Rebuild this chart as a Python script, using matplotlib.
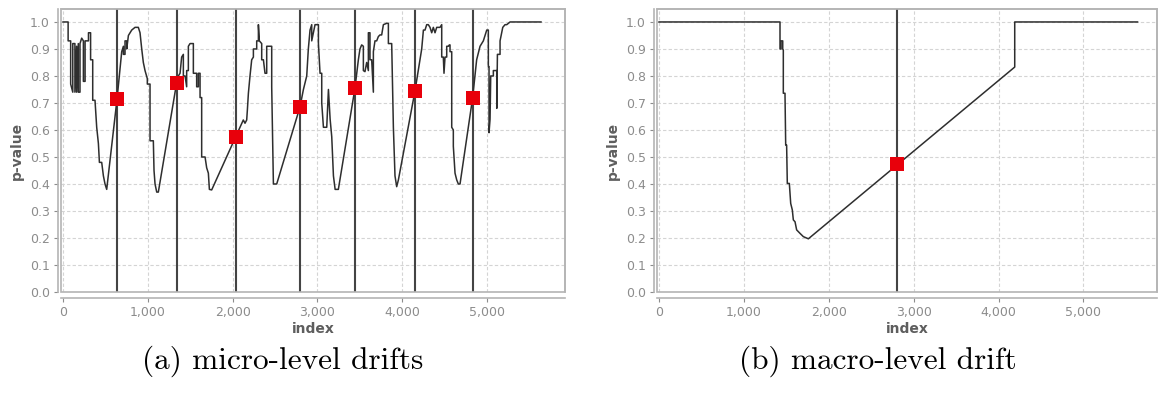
import matplotlib
matplotlib.use("Agg")
import matplotlib.pyplot as plt
from matplotlib.patches import Rectangle

# (a) micro-level drifts: p-value trace (index, p-value)
micro_x = [0, 60, 60, 90, 90, 115, 115, 140, 140, 160, 160, 180, 180, 200, 200, 220,
           240, 240, 260, 260, 300, 300, 325, 325, 350, 350, 377, 397, 417, 429, 456,
           476, 495, 515, 637, 692, 712, 712, 731, 731, 751, 751, 771, 790, 810, 849,
           888, 908, 928, 947, 967, 994, 994, 1026, 1026, 1065, 1073, 1085, 1105, 1124,
           1340, 1360, 1380, 1399, 1419, 1419, 1439, 1458, 1458, 1478, 1478, 1498, 1537,
           1537, 1576, 1576, 1596, 1596, 1616, 1616, 1635, 1635, 1675, 1694, 1714, 1726,
           1753, 2036, 2107, 2126, 2146, 2166, 2174, 2186, 2205, 2225, 2245, 2245, 2284,
           2284, 2304, 2304, 2315, 2343, 2343, 2363, 2382, 2402, 2402, 2461, 2461, 2481,
           2520, 2795, 2835, 2874, 2893, 2913, 2933, 2933, 2972, 2992, 3012, 3012, 3031,
           3051, 3051, 3071, 3110, 3130, 3130, 3150, 3150, 3169, 3189, 3209, 3228, 3247,
           3443, 3483, 3502, 3522, 3542, 3542, 3561, 3581, 3601, 3601, 3620, 3620, 3640,
           3660, 3660, 3679, 3699, 3719, 3738, 3758, 3778, 3817, 3837, 3837, 3876, 3896,
           3915, 3935, 3955, 4151, 4210, 4230, 4250, 4269, 4289, 4308, 4328, 4348, 4367,
           4387, 4407, 4446, 4466, 4466, 4485, 4493, 4505, 4525, 4525, 4544, 4556, 4564,
           4564, 4584, 4584, 4603, 4603, 4623, 4643, 4662, 4682, 4831, 4878, 4918, 4957,
           4977, 4997, 5016, 5016, 5024, 5024, 5036, 5044, 5056, 5075, 5075, 5095, 5115,
           5115, 5123, 5154, 5154, 5186, 5213, 5233, 5272, 5637]
micro_y = [1.0, 1.0, 0.93, 0.93, 0.77, 0.74, 0.92, 0.92, 0.74, 0.91, 0.74, 0.92, 0.74,
           0.74, 0.92, 0.94, 0.93, 0.78, 0.78, 0.93, 0.93, 0.96, 0.96, 0.86, 0.86, 0.71,
           0.71, 0.61, 0.55, 0.48, 0.48, 0.43, 0.40, 0.38, 0.715, 0.89, 0.91, 0.88, 0.88,
           0.93, 0.93, 0.90, 0.95, 0.96, 0.97, 0.98, 0.98, 0.96, 0.90, 0.85, 0.82, 0.79,
           0.77, 0.77, 0.56, 0.56, 0.45, 0.40, 0.37, 0.37, 0.775, 0.80, 0.81, 0.87, 0.88,
           0.80, 0.80, 0.76, 0.82, 0.82, 0.91, 0.92, 0.92, 0.81, 0.81, 0.76, 0.76, 0.81,
           0.81, 0.72, 0.72, 0.50, 0.50, 0.46, 0.44, 0.38, 0.378, 0.575, 0.625, 0.637,
           0.625, 0.637, 0.674, 0.736, 0.80, 0.86, 0.87, 0.90, 0.90, 0.93, 0.93, 0.99,
           0.93, 0.92, 0.86, 0.86, 0.81, 0.81, 0.91, 0.91, 0.76, 0.40, 0.40, 0.686, 0.75,
           0.80, 0.90, 0.97, 0.99, 0.93, 0.99, 0.99, 0.99, 0.92, 0.81, 0.81, 0.70, 0.61,
           0.61, 0.75, 0.75, 0.64, 0.64, 0.575, 0.43, 0.38, 0.38, 0.38, 0.755, 0.86, 0.90,
           0.915, 0.91, 0.82, 0.816, 0.85, 0.82, 0.96, 0.96, 0.86, 0.86, 0.74, 0.89, 0.93,
           0.93, 0.946, 0.952, 0.952, 0.99, 0.995, 0.995, 0.92, 0.92, 0.61, 0.43, 0.39,
           0.415, 0.745, 0.86, 0.90, 0.97, 0.97, 0.99, 0.99, 0.98, 0.96, 0.98, 0.96, 0.98,
           0.98, 0.99, 0.87, 0.87, 0.81, 0.87, 0.87, 0.91, 0.91, 0.915, 0.915, 0.89, 0.89,
           0.61, 0.60, 0.54, 0.44, 0.415, 0.40, 0.40, 0.72, 0.86, 0.91, 0.93, 0.95, 0.97,
           0.97, 0.835, 0.835, 0.59, 0.64, 0.80, 0.80, 0.80, 0.82, 0.82, 0.82, 0.68, 0.88,
           0.88, 0.93, 0.98, 0.99, 0.99, 1.0, 1.0]
micro_drifts = [637, 1340, 2036, 2795, 3443, 4151, 4831]
micro_drift_p = [0.715, 0.775, 0.575, 0.685, 0.755, 0.745, 0.72]

# (b) macro-level drift
macro_x = [0, 1425, 1425, 1437, 1437, 1457, 1457, 1464, 1464, 1484, 1484, 1492, 1503,
           1511, 1535, 1551, 1570, 1582, 1602, 1621, 1661, 1700, 1759, 4190, 4190, 5637]
macro_y = [1.0, 1.0, 0.90, 0.90, 0.93, 0.93, 0.90, 0.896, 0.736, 0.736, 0.729, 0.544,
           0.544, 0.402, 0.402, 0.328, 0.304, 0.267, 0.260, 0.230, 0.217, 0.205, 0.197,
           0.833, 1.0, 1.0]
macro_drifts = [2807]
macro_drift_p = [0.473]

W, H = 1159, 394
fig = plt.figure(figsize=(W / 100, H / 100), dpi=100)

tick_col = "#8c8c8c"
lab_col = "#5e5e5e"


def panel(box, xs, ys, drifts, ps, xmax, caption, cap_x):
    ax = fig.add_axes(box)
    ax.set_xlim(-24, xmax)
    ax.set_ylim(0, 1.048)
    ax.set_xticks([0, 1000, 2000, 3000, 4000, 5000])
    ax.set_xticklabels(["0", "1,000", "2,000", "3,000", "4,000", "5,000"])
    ax.set_yticks([i / 10 for i in range(11)])
    ax.set_yticklabels(["%.1f" % (i / 10) for i in range(11)])
    ax.grid(True, color="#d4d4d4", linestyle=(0, (3, 2)), linewidth=0.8)
    for s in ax.spines.values():
        s.set_color("#b4b4b4")
        s.set_linewidth(1.2)
    ax.spines["bottom"].set_position(("outward", 4))
    ax.spines["left"].set_position(("outward", 2))
    ax.add_patch(Rectangle((0, 0), 1, 1, transform=ax.transAxes, fill=False,
                           edgecolor="#b4b4b4", linewidth=1.2, clip_on=False, zorder=5))
    ax.tick_params(colors=tick_col, labelsize=9, length=3, width=0.8, pad=3)
    for d in drifts:
        ax.axvline(d, color="#444444", linewidth=1.5, zorder=3)
    ax.plot(xs, ys, color="#2e2e2e", linewidth=1.1, zorder=4)
    ax.plot(drifts, ps, linestyle="none", marker="s", markersize=10,
            color="#e8000b", markeredgewidth=0, zorder=6)
    ax.set_xlabel("index", color=lab_col, fontsize=10, fontweight="bold", labelpad=2)
    ax.set_ylabel("p-value", color=lab_col, fontsize=10, fontweight="bold", labelpad=4)
    fig.text(cap_x / W, 1 - 361 / H, caption, family="cmr10", fontsize=22.5,
             ha="center", va="center")
    return ax


panel([61 / W, 102 / H, 504 / W, 283 / H], micro_x, micro_y, micro_drifts,
      micro_drift_p, 5920, "(a) micro-level drifts", 283)
panel([657 / W, 102 / H, 500 / W, 283 / H], macro_x, macro_y, macro_drifts,
      macro_drift_p, 5866, "(b) macro-level drift", 878)

fig.savefig("out.png", dpi=100)
